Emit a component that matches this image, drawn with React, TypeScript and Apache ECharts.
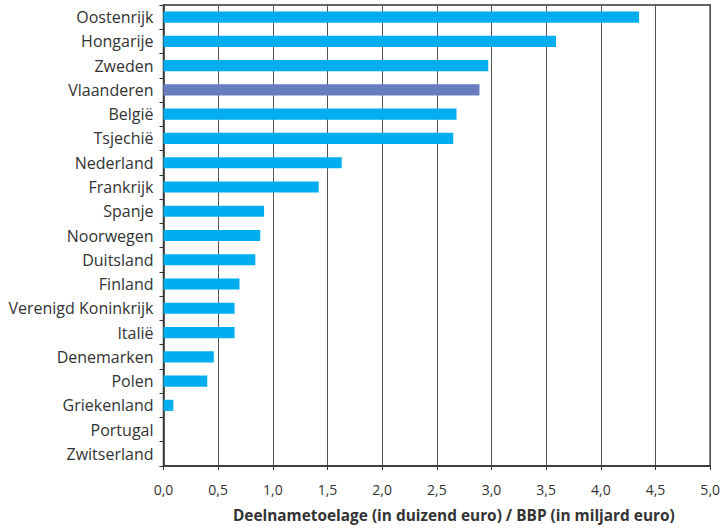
import React, { useEffect, useRef } from "react";
import * as echarts from "echarts";

const categories = [
  "Oostenrijk", "Hongarije", "Zweden", "Vlaanderen", "België", "Tsjechië",
  "Nederland", "Frankrijk", "Spanje", "Noorwegen", "Duitsland", "Finland",
  "Verenigd Koninkrijk", "Italië", "Denemarken", "Polen", "Griekenland",
  "Portugal", "Zwitserland",
];
const values = [
  4.35, 3.59, 2.97, 2.89, 2.68, 2.65,
  1.63, 1.42, 0.92, 0.885, 0.84, 0.695,
  0.65, 0.65, 0.46, 0.40, 0.09,
  0, 0,
];
const highlight = "Vlaanderen";
const axisTitle = "Deelnametoelage (in duizend euro) / BBP (in miljard euro)";

export default function App() {
  const ref = useRef<HTMLDivElement>(null);
  useEffect(() => {
    if (!ref.current) return;
    const chart = echarts.init(ref.current, undefined, { renderer: "svg" });
    const font = "'Open Sans', 'Noto Sans', sans-serif";
    chart.setOption({
      animation: false,
      grid: {
        left: 163.5, right: 9, top: 5, bottom: 58,
        show: true, borderColor: "#333", borderWidth: 1.5,
      },
      xAxis: {
        type: "value",
        min: 0, max: 5, interval: 0.5,
        name: axisTitle,
        nameLocation: "middle",
        nameGap: 42,
        nameTextStyle: {
          fontFamily: font, fontWeight: "bold", fontSize: 15.4, color: "#333",
          padding: [0, 0, 0, 34],
        },
        axisLine: { show: true, lineStyle: { color: "#333", width: 1.5 } },
        axisTick: { show: true, length: 4, lineStyle: { color: "#333" } },
        axisLabel: {
          fontFamily: font, fontSize: 14, color: "#333", margin: 16,
          formatter: (v: number) => (Math.round(v * 10) / 10).toFixed(1).replace(".", ","),
        },
        splitLine: { show: true, lineStyle: { color: "#555", width: 1 } },
      },
      yAxis: {
        type: "category",
        data: categories,
        inverse: true,
        axisLine: { show: true, lineStyle: { color: "#333", width: 1.5 } },
        axisTick: { show: true, length: 4, alignWithLabel: false, lineStyle: { color: "#333" } },
        axisLabel: { fontFamily: font, fontSize: 16, color: "#333", margin: 10 },
        splitLine: { show: false },
      },
      series: [
        {
          type: "bar",
          barWidth: "46%",
          data: values.map((v, i) => ({
            value: v,
            itemStyle: { color: categories[i] === highlight ? "#687DBF" : "#00AEEF" },
          })),
        },
      ],
    });
    return () => chart.dispose();
  }, []);
  return <div ref={ref} style={{ width: 723, height: 528, position: "absolute", left: 0, top: 0 }} />;
}
